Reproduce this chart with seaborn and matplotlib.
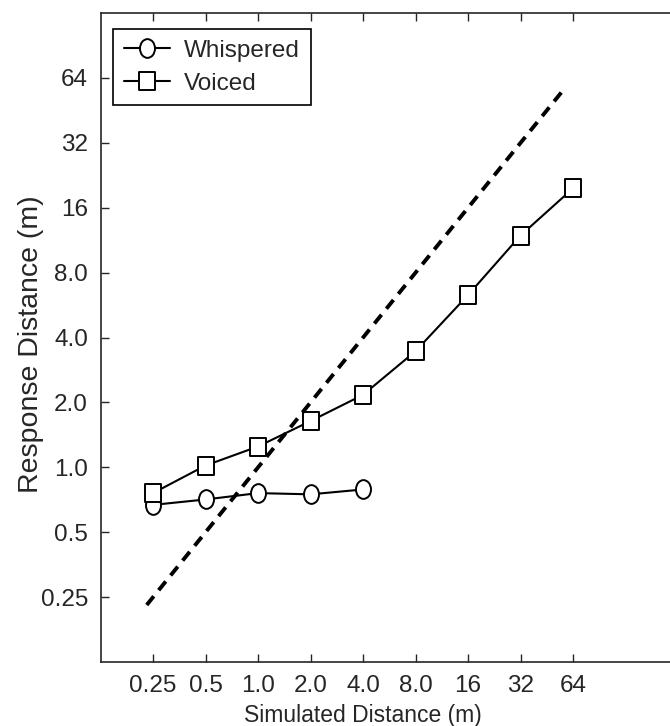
import matplotlib
matplotlib.use("Agg")
import matplotlib.pyplot as plt
import pandas as pd
import seaborn as sns
from matplotlib.path import Path

# 数据
sim_whispered = [0.25, 0.5, 1.0, 2.0, 4.0]
resp_whispered = [0.67, 0.71, 0.76, 0.75, 0.79]
sim_voiced = [0.25, 0.5, 1.0, 2.0, 4.0, 8.0, 16, 32, 64]
resp_voiced = [0.76, 1.02, 1.25, 1.64, 2.17, 3.46, 6.3, 11.9, 19.7]
identity = [0.23, 58]
tick_vals = [0.25, 0.5, 1, 2, 4, 8, 16, 32, 64]
tick_labels = ["0.25", "0.5", "1.0", "2.0", "4.0", "8.0", "16", "32", "64"]

df = pd.concat([
    pd.DataFrame({"sim": sim_whispered, "resp": resp_whispered, "cond": "Whispered"}),
    pd.DataFrame({"sim": sim_voiced, "resp": resp_voiced, "cond": "Voiced"}),
])

# 原图纵向略被拉伸，标记用竖椭圆/竖矩形
circ = Path.unit_circle()
ellipse = Path(circ.vertices * [0.8, 1.0], circ.codes)
rect = Path([(-0.87, -1), (0.87, -1), (0.87, 1), (-0.87, 1), (-0.87, -1)],
            [Path.MOVETO, Path.LINETO, Path.LINETO, Path.LINETO, Path.CLOSEPOLY])

sns.set_style("ticks")
plt.rcParams["font.family"] = ["Liberation Sans", "DejaVu Sans"]

fig = plt.figure(figsize=(6.7, 7.26), dpi=100)
ax = fig.add_axes([0.150, 0.088, 0.862, 0.894])

sns.lineplot(data=df, x="sim", y="resp", hue="cond", style="cond",
             palette={"Whispered": "black", "Voiced": "black"},
             markers={"Whispered": ellipse, "Voiced": rect}, dashes=False,
             markersize=13.5, markerfacecolor="white", markeredgecolor="black",
             markeredgewidth=1.4, linewidth=1.5, sort=False, ax=ax)
sns.lineplot(x=identity, y=identity, color="black", linewidth=2.8, ax=ax,
             linestyle=(0, (2.9, 2.0)))

ax.set_xscale("log", base=2)
ax.set_yscale("log", base=2)
ax.set_xlim(0.125, 256)
ax.set_ylim(0.125, 128)
ax.set_xticks(tick_vals)
ax.set_xticklabels(tick_labels)
ax.set_yticks(tick_vals)
ax.set_yticklabels(tick_labels)
ax.minorticks_off()
ax.tick_params(direction="in", length=6, width=1, labelsize=17.5, top=True,
               right=True)
ax.tick_params(axis="x", pad=9)
ax.tick_params(axis="y", pad=9)
for s in ax.spines.values():
    s.set_linewidth(1.2)
ax.set_xlabel("Simulated Distance (m)", fontsize=16.5)
ax.xaxis.set_label_coords(0.454, -0.064)
ax.set_ylabel("Response Distance (m)", fontsize=20.5)
ax.yaxis.set_label_coords(-0.098, 0.49)

leg = ax.legend(loc="upper left", bbox_to_anchor=(0.021, 0.976), fontsize=17.5,
                frameon=True, fancybox=False, edgecolor="black",
                framealpha=1, handlelength=1.9, borderpad=0.45,
                borderaxespad=0, labelspacing=0.45, handletextpad=0.6,
                title=None)
leg.get_frame().set_linewidth(1.2)

fig.savefig("out.png", dpi=100)
plt.close(fig)
